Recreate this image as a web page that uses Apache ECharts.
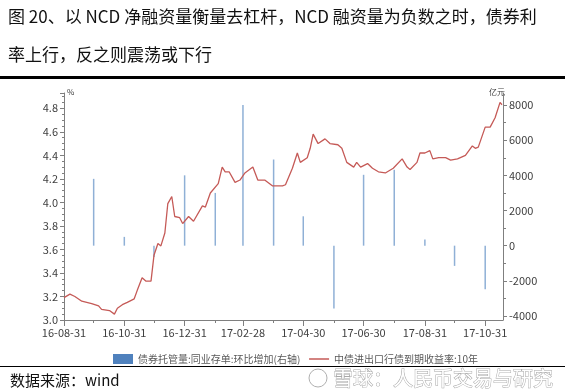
<!DOCTYPE html>
<html><head><meta charset="utf-8">
<script src="https://cdn.jsdelivr.net/npm/echarts@6/dist/echarts.min.js"></script>
<style>html,body{margin:0;padding:0;background:#fff}#c{width:565px;height:391px}</style>
</head><body><div id="c"></div>
<script>
const yieldDates = ['2016-08-31','2016-09-06','2016-09-11','2016-09-18','2016-09-28','2016-10-05','2016-10-08','2016-10-16','2016-10-21','2016-10-24','2016-10-29','2016-11-03','2016-11-10','2016-11-13','2016-11-18','2016-11-22','2016-11-27','2016-11-30','2016-12-04','2016-12-07','2016-12-11','2016-12-14','2016-12-18','2016-12-21','2016-12-26','2016-12-29','2017-01-04','2017-01-09','2017-01-18','2017-01-21','2017-01-26','2017-02-03','2017-02-07','2017-02-10','2017-02-14','2017-02-20','2017-02-25','2017-03-02','2017-03-10','2017-03-15','2017-03-22','2017-03-30','2017-04-09','2017-04-12','2017-04-19','2017-04-24','2017-04-27','2017-05-04','2017-05-07','2017-05-10','2017-05-15','2017-05-22','2017-05-27','2017-06-04','2017-06-08','2017-06-13','2017-06-20','2017-06-23','2017-06-27','2017-07-04','2017-07-09','2017-07-15','2017-07-22','2017-07-30','2017-08-08','2017-08-13','2017-08-16','2017-08-23','2017-08-26','2017-08-31','2017-09-05','2017-09-08','2017-09-14','2017-09-21','2017-09-26','2017-10-03','2017-10-11','2017-10-18','2017-10-21','2017-10-24','2017-10-31','2017-11-05','2017-11-10','2017-11-15','2017-11-17'];
const yieldValues = [3.19,3.22,3.20,3.16,3.14,3.12,3.09,3.08,3.05,3.10,3.13,3.15,3.18,3.25,3.36,3.33,3.33,3.55,3.65,3.63,3.74,3.99,4.05,3.88,3.87,3.82,3.88,3.84,3.97,3.96,4.08,4.16,4.30,4.26,4.26,4.17,4.19,4.25,4.30,4.19,4.19,4.14,4.14,4.15,4.29,4.42,4.34,4.38,4.46,4.58,4.50,4.54,4.50,4.49,4.46,4.34,4.30,4.34,4.30,4.33,4.29,4.26,4.25,4.29,4.37,4.30,4.28,4.34,4.42,4.42,4.44,4.37,4.38,4.38,4.36,4.37,4.40,4.48,4.46,4.47,4.64,4.64,4.72,4.85,4.83];
const barDates = ['2016-09-30','2016-10-31','2016-11-30','2016-12-31','2017-01-31','2017-02-28','2017-03-31','2017-04-30','2017-05-31','2017-06-30','2017-07-31','2017-08-31','2017-09-30','2017-10-31'];
const barValues = [3800,500,-650,4000,3000,8240,4900,1670,-3570,4030,4320,350,-1150,-2480];
const xLabelDates = ['2016-08-31','2016-10-31','2016-12-31','2017-02-28','2017-04-30','2017-06-30','2017-08-31','2017-10-31'];
const xMinorTickDates = ['2016-09-30','2016-11-30','2017-01-31','2017-03-31','2017-05-31','2017-07-31','2017-09-30'];
const xStart = '2016-08-31', xEnd = '2017-11-18';
const barName = '债券托管量:同业存单:环比增加(右轴)';
const lineName = '中债进出口行债到期收益率:10年';
const titleLine1 = '图 20、以 NCD 净融资量衡量去杠杆，NCD 融资量为负数之时，债券利';
const titleLine2 = '率上行，反之则震荡或下行';
const sourceText = '数据来源：wind';
const watermark = '雪球：人民币交易与研究';

const ts = s => { const p = s.split('-').map(Number); return Date.UTC(p[0], p[1]-1, p[2]); };
const fmt = v => { const d = new Date(v); const z = n => (n<10?'0':'')+n; return z(d.getUTCFullYear()%100)+'-'+z(d.getUTCMonth()+1)+'-'+z(d.getUTCDate()); };
const FONT = '"Noto Sans CJK SC", "Noto Sans", sans-serif';
const AX = '#7f7f7f', LB = '#404040', LINE = '#c55a57';

const chart = echarts.init(document.getElementById('c'), null, {renderer:'canvas'});
chart.setOption({
  animation:false,
  backgroundColor:'#fff',
  textStyle:{fontFamily:FONT},
  grid:[
    {left:64, right:62, top:93, bottom:71, containLabel:false},
    {left:64, right:62, top:105, bottom:75, containLabel:false}
  ],
  xAxis:[
    {gridIndex:0, type:'value', position:'bottom', min:ts(xStart), max:ts(xEnd),
     axisLine:{show:true, lineStyle:{color:AX, width:1}}, splitLine:{show:false},
     axisTick:{show:true, customValues:xLabelDates.map(ts), length:6, lineStyle:{color:AX}},
     axisLabel:{customValues:xLabelDates.map(ts), formatter:v=>fmt(v), color:LB, fontSize:11, margin:7, fontFamily:FONT}},
    {gridIndex:0, type:'value', position:'bottom', min:ts(xStart), max:ts(xEnd), offset:0,
     axisLine:{show:false}, splitLine:{show:false},
     axisTick:{show:true, customValues:xMinorTickDates.map(ts), length:3, lineStyle:{color:AX}},
     axisLabel:{show:false}},
    {gridIndex:1, type:'value', min:ts(xStart), max:ts(xEnd), show:false, splitLine:{show:false}}
  ],
  yAxis:[
    {gridIndex:0, type:'value', position:'left', min:3.0, max:4.93, interval:0.2,
     axisLine:{show:true, lineStyle:{color:AX}}, splitLine:{show:false},
     axisTick:{show:true, length:4, lineStyle:{color:AX}},
     minorTick:{show:true, splitNumber:4, length:2, lineStyle:{color:AX}},
     axisLabel:{showMaxLabel:false, formatter:v=>v.toFixed(1), color:LB, fontSize:11, margin:6, fontFamily:FONT}},
    {gridIndex:0, type:'value', position:'right', min:0, max:1,
     axisLine:{show:true, lineStyle:{color:AX}}, axisTick:{show:false}, axisLabel:{show:false}, splitLine:{show:false}},
    {gridIndex:1, type:'value', position:'right', min:-4000, max:8000, interval:2000,
     axisLine:{show:false}, splitLine:{show:false},
     axisTick:{show:true, length:4, lineStyle:{color:AX}},
     minorTick:{show:true, splitNumber:2, length:3, lineStyle:{color:AX}},
     axisLabel:{formatter:v=>String(v), color:LB, fontSize:11, margin:6, fontFamily:FONT}}
  ],
  legend:{
    left:108, top:349, itemWidth:20, itemHeight:10, itemGap:8,
    textStyle:{fontSize:10, color:'#595959', fontFamily:FONT},
    data:[{name:barName, icon:'rect', itemStyle:{color:'#4f81bd'}},
          {name:lineName, itemStyle:{opacity:0}, lineStyle:{color:LINE, width:1.5}}]
  },
  series:[
    {name:barName, type:'bar', xAxisIndex:2, yAxisIndex:2, barWidth:1.5, z:1,
     itemStyle:{color:'#8fb0d6'},
     data:barDates.map((d,i)=>[ts(d), barValues[i]])},
    {name:lineName, type:'line', xAxisIndex:0, yAxisIndex:0, symbol:'none', z:3,
     lineStyle:{color:LINE, width:1.3}, itemStyle:{color:LINE},
     data:yieldDates.map((d,i)=>[ts(d), yieldValues[i]])}
  ],
  graphic:[
    {type:'text', x:8, y:17, style:{text:titleLine1, fill:'#111', fontSize:17, fontFamily:FONT, verticalAlign:'middle'}},
    {type:'text', x:8, y:55, style:{text:titleLine2, fill:'#111', fontSize:17, fontFamily:FONT, verticalAlign:'middle'}},
    {type:'rect', shape:{x:0, y:76, width:565, height:3}, style:{fill:'#000'}},
    {type:'text', x:67, y:92, style:{text:'%', fill:LB, fontSize:8, fontFamily:FONT, verticalAlign:'middle'}},
    {type:'text', x:489, y:92, style:{text:'亿元', fill:LB, fontSize:8, fontFamily:FONT, verticalAlign:'middle'}},
    {type:'rect', shape:{x:0, y:366, width:565, height:1}, style:{fill:'#000'}},
    {type:'text', x:10, y:380, style:{text:sourceText, fill:'#111', fontSize:15, fontFamily:FONT, verticalAlign:'middle'}},
    {type:'circle', shape:{cx:318, cy:378, r:9}, style:{fill:'none', stroke:'#b0b0b0', lineWidth:1}},
    {type:'text', x:333, y:378, style:{text:watermark, fill:'#fff', stroke:'#a8a8a8', lineWidth:1, fontSize:20, fontFamily:FONT, verticalAlign:'middle'}}
  ]
});
</script></body></html>
